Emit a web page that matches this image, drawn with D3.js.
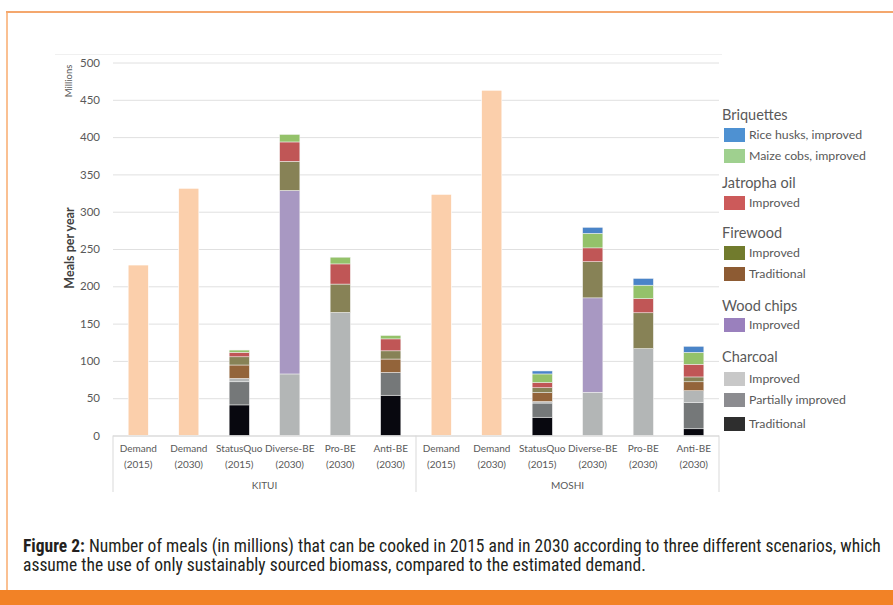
<!DOCTYPE html>
<html>
<head>
<meta charset="utf-8">
<script src="https://cdn.jsdelivr.net/npm/d3@7"></script>
<style>
  html, body { margin: 0; padding: 0; background: #fff; }
  svg { display: block; }
</style>
</head>
<body>
<svg id="chart" width="893" height="605"></svg>
<script>

/* ── data ── */
const groups = ['KITUI', 'MOSHI'];
const scenarios = [['Demand', '(2015)'], ['Demand', '(2030)'], ['StatusQuo', '(2015)'],
                   ['Diverse-BE', '(2030)'], ['Pro-BE', '(2030)'], ['Anti-BE', '(2030)']];

const demand        = [228.5, 331.4, 0, 0, 0, 0,    323.3, 462.8, 0, 0, 0, 0];
const charcoalTrad  = [0, 0, 41,   0,     0,   54,   0, 0, 24.5, 0,     0,     9];
const charcoalPart  = [0, 0, 31,   0,     0,   30.5, 0, 0, 19,   0,     0,     35];
const charcoalImp   = [0, 0, 4.5,  82.5,  165, 0,    0, 0, 2,    58,    116.5, 16];
const woodChips     = [0, 0, 0,    246,   0,   0,    0, 0, 0,    126.5, 0,     0];
const firewoodTrad  = [0, 0, 18,   0,     0,   18,   0, 0, 12,   0,     0,     12];
const firewoodImp   = [0, 0, 11,   39,    38,  11,   0, 0, 6.5,  48.5,  48,    6.5];
const jatropha      = [0, 0, 6,    26,    27,  16,   0, 0, 7,    18.5,  19,    17];
const maizeCobs     = [0, 0, 3,    10,    9,   4.5,  0, 0, 11.5, 19.5,  18,    16];
const riceHusks     = [0, 0, 0,    0,     0,   0,    0, 0, 4,    8,     9,     8];

const yTicks = [0, 50, 100, 150, 200, 250, 300, 350, 400, 450, 500];

/* stack order bottom -> top, bar colour and legend colour */
const series = [
  { key: 'charcoalTrad', values: charcoalTrad, bar: '#08080f', swatch: '#2e2e2e' },
  { key: 'charcoalPart', values: charcoalPart, bar: '#757879', swatch: '#8c8c90' },
  { key: 'charcoalImp',  values: charcoalImp,  bar: '#b3b6b6', swatch: '#c8c8c8' },
  { key: 'woodChips',    values: woodChips,    bar: '#a898c2', swatch: '#9a80bd' },
  { key: 'firewoodTrad', values: firewoodTrad, bar: '#93643a', swatch: '#8d5b33' },
  { key: 'firewoodImp',  values: firewoodImp,  bar: '#878256', swatch: '#717b2d' },
  { key: 'jatropha',     values: jatropha,     bar: '#c05656', swatch: '#cc5a5a' },
  { key: 'maizeCobs',    values: maizeCobs,    bar: '#94c26a', swatch: '#9fd08f' },
  { key: 'riceHusks',    values: riceHusks,    bar: '#4a84c8', swatch: '#4e91d2' }
];
const colorOf = Object.fromEntries(series.map(s => [s.key, s]));

const legendSections = [
  { title: 'Briquettes',   items: [['riceHusks', 'Rice husks, improved'], ['maizeCobs', 'Maize cobs, improved']] },
  { title: 'Jatropha oil', items: [['jatropha', 'Improved']] },
  { title: 'Firewood',     items: [['firewoodImp', 'Improved'], ['firewoodTrad', 'Traditional']] },
  { title: 'Wood chips',   items: [['woodChips', 'Improved']] },
  { title: 'Charcoal',     items: [['charcoalImp', 'Improved'], ['charcoalPart', 'Partially improved'], ['charcoalTrad', 'Traditional']] }
];

/* ── setup ── */
const svg = d3.select('#chart');
const font = 'Lato, "Open Sans", sans-serif';
const textGrey = '#595959';

const plotLeft = 113, plotRight = 719, plotTop = 62.5, plotBottom = 435.5;

const cats = [];
groups.forEach(g => scenarios.forEach((s, i) => cats.push({ id: g + i, group: g, l1: s[0], l2: s[1] })));

const xScale = d3.scaleBand()
  .domain(cats.map(d => d.id))
  .range([plotLeft, plotRight])
  .paddingInner(0.6).paddingOuter(0.3);

const yScale = d3.scaleLinear().domain([0, 500]).range([plotBottom, plotTop]);

/* ── frame ── */
svg.append('rect').attr('x', 0).attr('y', 590).attr('width', 893).attr('height', 15).attr('fill', '#f28226');
svg.append('line').attr('x1', 6).attr('x2', 893).attr('y1', 12).attr('y2', 12)
  .attr('stroke', '#f08a3c').attr('stroke-width', 1.5);
svg.append('line').attr('x1', 7).attr('x2', 7).attr('y1', 12).attr('y2', 590)
  .attr('stroke', '#f9ab6e').attr('stroke-width', 1.5);

/* faint chart-area top border */
svg.append('line').attr('x1', 55).attr('x2', 722).attr('y1', 54.5).attr('y2', 54.5)
  .attr('stroke', '#f0f0f0').attr('stroke-width', 1);

/* ── grid + y axis ── */
const yAxis = svg.append('g')
  .attr('transform', `translate(${plotLeft},0)`)
  .call(d3.axisLeft(yScale).tickValues(yTicks).tickSize(-(plotRight - plotLeft)).tickPadding(13));
yAxis.select('.domain').remove();
yAxis.selectAll('.tick line').attr('stroke', '#e0e0e0');
yAxis.selectAll('.tick text')
  .attr('fill', textGrey).attr('font-family', font).attr('font-size', 11.5);

/* ── bars ── */
const stackRows = cats.map((c, i) => {
  const row = { id: c.id };
  series.forEach(s => row[s.key] = s.values[i]);
  return row;
});
const stacked = d3.stack().keys(series.map(s => s.key))(stackRows);

const barsG = svg.append('g');
barsG.selectAll('rect.demand')
  .data(cats.map((c, i) => ({ id: c.id, v: demand[i] })).filter(d => d.v > 0))
  .join('rect')
  .attr('class', 'demand')
  .attr('x', d => xScale(d.id))
  .attr('width', xScale.bandwidth())
  .attr('y', d => yScale(d.v))
  .attr('height', d => yScale(0) - yScale(d.v))
  .attr('fill', '#fbcfab')
  .attr('stroke', '#fff').attr('stroke-width', 0.6);

barsG.selectAll('g.layer')
  .data(stacked)
  .join('g')
  .attr('class', 'layer')
  .attr('fill', d => colorOf[d.key].bar)
  .selectAll('rect')
  .data(d => d.filter(p => p[1] - p[0] > 0).map(p => ({ p, id: p.data.id })))
  .join('rect')
  .attr('x', d => xScale(d.id))
  .attr('width', xScale.bandwidth())
  .attr('y', d => yScale(d.p[1]))
  .attr('height', d => yScale(d.p[0]) - yScale(d.p[1]))
  .attr('stroke', '#f4f4f4').attr('stroke-width', 0.5);

/* ── category axis ── */
const axisCol = '#d9d9d9';
svg.append('line').attr('x1', plotLeft).attr('x2', plotRight)
  .attr('y1', plotBottom + 0.5).attr('y2', plotBottom + 0.5).attr('stroke', axisCol);

const groupW = (plotRight - plotLeft) / groups.length;
[0, 1, 2].forEach(i => {
  const x = plotLeft + i * groupW;
  svg.append('line').attr('x1', x).attr('x2', x).attr('y1', plotBottom).attr('y2', 492)
    .attr('stroke', axisCol);
});

const catLabels = svg.append('g');
cats.forEach(c => {
  const cx = xScale(c.id) + xScale.bandwidth() / 2;
  const t = catLabels.append('text')
    .attr('x', cx).attr('text-anchor', 'middle')
    .attr('font-family', font).attr('font-size', 10).attr('fill', textGrey);
  t.append('tspan').attr('x', cx).attr('y', 451.5).text(c.l1);
  t.append('tspan').attr('x', cx).attr('y', 467.5).text(c.l2);
});

groups.forEach((g, i) => {
  svg.append('text')
    .attr('x', plotLeft + groupW * (i + 0.5)).attr('y', 489)
    .attr('text-anchor', 'middle')
    .attr('font-family', font).attr('font-size', 10).attr('fill', textGrey)
    .text(g);
});

/* ── axis titles ── */
svg.append('text')
  .attr('transform', 'translate(74,248) rotate(-90)')
  .attr('text-anchor', 'middle')
  .attr('font-family', font).attr('font-size', 12.5).attr('font-weight', 700)
  .attr('fill', '#404040')
  .text('Meals per year');

svg.append('text')
  .attr('transform', 'translate(72,81) rotate(-90)')
  .attr('text-anchor', 'middle')
  .attr('font-family', font).attr('font-size', 9.5).attr('fill', textGrey)
  .text('Millions');

/* ── legend ── */
const legend = svg.append('g');
const titleY = [115, 183, 233, 306, 357];
const itemY = [[135, 156], [203], [253, 274], [325], [379, 400, 424]];
legendSections.forEach((sec, si) => {
  legend.append('text')
    .attr('x', 722).attr('y', titleY[si]).attr('dy', '0.35em')
    .attr('font-family', font).attr('font-size', 14.5).attr('fill', textGrey)
    .text(sec.title);
  sec.items.forEach(([key, label], ii) => {
    const y = itemY[si][ii];
    legend.append('rect')
      .attr('x', 724).attr('y', y - 7).attr('width', 21).attr('height', 14)
      .attr('fill', colorOf[key].swatch);
    legend.append('text')
      .attr('x', 749).attr('y', y).attr('dy', '0.35em')
      .attr('font-family', font).attr('font-size', 12.3).attr('fill', textGrey)
      .text(label);
  });
});

/* ── caption ── */
const capFont = '"Liberation Sans Narrow", "Arial Narrow", "Roboto Condensed", "Liberation Sans", sans-serif';
const cap1 = svg.append('text').attr('x', 23).attr('y', 552)
  .attr('font-family', capFont).attr('font-size', 14).attr('fill', '#231f20');
cap1.append('tspan').attr('font-weight', 700).text('Figure 2:');
cap1.append('tspan').text(' Number of meals (in millions) that can be cooked in 2015 and in 2030 according to three different scenarios, which');
const cap2 = svg.append('text').attr('x', 23).attr('y', 571)
  .attr('font-family', capFont).attr('font-size', 14).attr('fill', '#231f20')
  .text('assume the use of only sustainably sourced biomass, compared to the estimated demand.');

/* fit first caption line to its width in the reference */
const w1 = cap1.node().getComputedTextLength();
const capSize = 14 * 858 / w1;
cap1.attr('font-size', capSize);
cap2.attr('font-size', capSize);

</script>
</body>
</html>
